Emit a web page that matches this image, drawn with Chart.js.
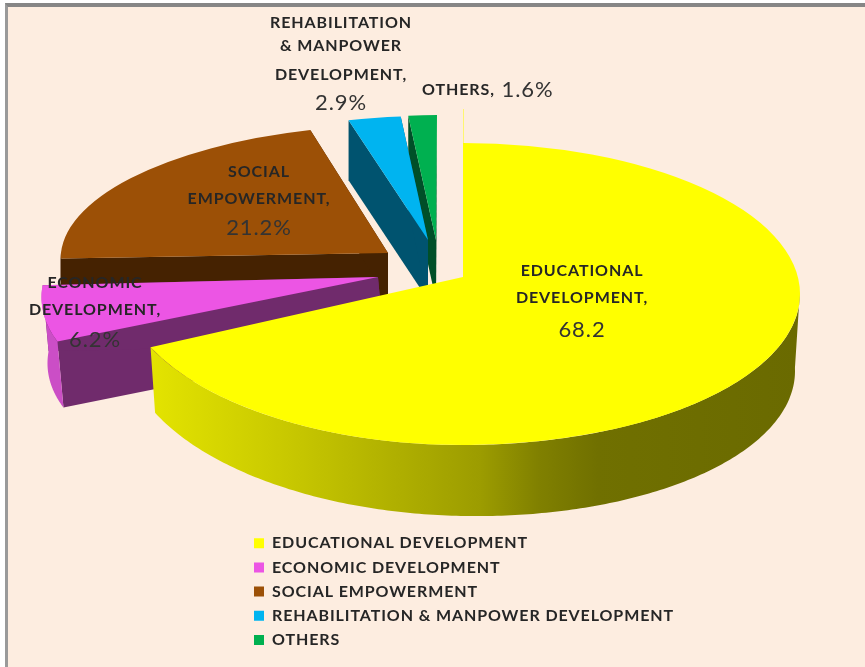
<!DOCTYPE html>
<html>
<head>
<meta charset="utf-8">
<script src="https://cdn.jsdelivr.net/npm/chart.js@4"></script>
<style>
html,body{margin:0;padding:0;background:#fff;width:865px;height:667px;overflow:hidden}
#panel{position:absolute;left:5px;top:3px;right:0;bottom:0;background:#FDEDE0;border-left:3px solid #9a9a9a;border-top:4px solid #868686}
#c{position:absolute;left:0;top:0;filter:blur(0.6px)}
</style>
</head>
<body>
<div id="panel"></div>
<canvas id="c" width="865" height="667"></canvas>
<script>
// ---- data ----
const categories = ['EDUCATIONAL DEVELOPMENT','ECONOMIC DEVELOPMENT','SOCIAL EMPOWERMENT','REHABILITATION & MANPOWER DEVELOPMENT','OTHERS'];
const shares = [68.2, 6.2, 21.2, 2.9, 1.6];
const shareText = ['68.2','6.2%','21.2%','2.9%','1.6%'];
// ---- colours ----
const topColors = ['#FFFF00','#EC55E4','#9C5006','#00B4F0','#00B050'];
const cutColors = ['#8a8a00','#702B6C','#452201','#00536F','#004F28'];
const rimColors = [null,'#CB4EC6','#452201','#00536F','#004F28'];
// ---- exploded 3D layout: per-slice projection (centre, radii, shear, extrusion) ----
// The large slice uses two projections (right half / left half) to imitate perspective.
const frames = [
  {right:{cx:463,cy:294,rx:337,ry:151,k:0,b:0},left:{cx:463,cy:277,rx:344,ry:168,k:0,b:0},splitX:463,depthBase:71,depthTilt:6,dxTilt:-5},
  {cx:378,cy:277,rx:334,ry:150,k:-41,b:-2,depth:66,dx:6},
  {cx:388,cy:253,rx:327,ry:128,k:-14,b:0, depth:46,dx:0},
  {cx:428,cy:240,rx:292,ry:124,k:-2, b:2, depth:60,dx:0},
  {cx:436,cy:240,rx:287,ry:125,k:-1, b:0, depth:60,dx:0}
];
const drawOrder = [2,4,3,1,0];
const rimStops = [[0,'#E4E400'],[0.23,'#C6C600'],[0.51,'#9C9C00'],[0.6,'#808000'],[0.69,'#707000'],[1,'#6A6A00']];
// ---- data labels ----
const labelLines = [
  {x:582,ys:[271,298],v:330,lines:['EDUCATIONAL','DEVELOPMENT,']},
  {x:95, ys:[283,310],v:340,lines:['ECONOMIC','DEVELOPMENT,']},
  {x:259,ys:[172,199],v:228,lines:['SOCIAL','EMPOWERMENT,']},
  {x:341,ys:[23,46,75],v:103,lines:['REHABILITATION','& MANPOWER','DEVELOPMENT,']},
  {x:422,ys:[90],v:90,lines:['OTHERS,'],inline:true}
];
const labelFont = '700 16px Lato';
const valueFont = '400 22px Lato';
const labelColor = '#262626';
const valueColor = '#333333';
const labelTracking = '0.9px';

function drawTop(ctx,el,p,f,clip){
  const R = p.outerRadius;
  ctx.save();
  if(clip){ctx.beginPath();ctx.rect(clip[0],0,clip[1],667);ctx.clip();}
  ctx.translate(f.cx,f.cy);
  ctx.transform(f.rx/R,f.b/R,f.k/R,f.ry/R,0,0);
  ctx.translate(-p.x,-p.y);
  el.draw(ctx);
  ctx.restore();
}

const pseudo3d = {
  id:'pseudo3d',
  afterLayout(chart){
    const l = chart.legend;
    l.left = 245.8; l.top = 527; l.right = 860; l.bottom = 667;
  },
  beforeDraw(chart){ chart.ctx.letterSpacing = labelTracking; },
  beforeDatasetDraw(chart){
    const ctx = chart.ctx;
    const arcs = chart.getDatasetMeta(0).data;
    drawOrder.forEach(i=>{
      const el = arcs[i], f = frames[i];
      const p = el.getProps(['x','y','startAngle','endAngle','outerRadius'],true);
      const frameAt = a => f.right ? (Math.cos(a)>=0 ? f.right : f.left) : f;
      const at = a=>{
        const s = Math.sin(a), c = Math.cos(a), g = frameAt(a);
        return [g.cx+g.rx*c+g.k*s, g.cy+g.ry*s+g.b*c];
      };
      const depthAt = a => f.right ? f.depthBase+f.depthTilt*Math.cos(a) : f.depth;
      const dxAt = a => f.right ? f.dxTilt*Math.cos(a) : f.dx;
      if(i!==0){
        ctx.fillStyle = cutColors[i];
        [p.startAngle,p.endAngle].forEach(a=>{
          const e = at(a);
          ctx.beginPath();
          ctx.moveTo(f.cx,f.cy);ctx.lineTo(e[0],e[1]);
          ctx.lineTo(e[0]+f.dx,e[1]+f.depth);ctx.lineTo(f.cx+f.dx,f.cy+f.depth);
          ctx.closePath();ctx.fill();
        });
      }
      // outer rim, only where it faces the viewer
      const from = Math.max(p.startAngle,-0.02);
      const to = Math.min(p.endAngle, Math.PI+0.02);
      if(to>from){
        const n = 200, angs=[];
        for(let j=0;j<=n;j++) angs.push(from+(to-from)*j/n);
        ctx.beginPath();
        angs.forEach((a,j)=>{const q=at(a); j?ctx.lineTo(q[0],q[1]):ctx.moveTo(q[0],q[1]);});
        for(let j=n;j>=0;j--){const a=angs[j],q=at(a);ctx.lineTo(q[0]+dxAt(a),q[1]+depthAt(a));}
        ctx.closePath();
        if(i===0){
          const g = ctx.createLinearGradient(148,0,800,0);
          rimStops.forEach(s=>g.addColorStop(s[0],s[1]));
          ctx.fillStyle=g;
        } else ctx.fillStyle = rimColors[i];
        ctx.fill();
      }
      // top face: the library's own arc element, projected
      if(f.right){
        drawTop(ctx,el,p,f.right,[f.splitX,865-f.splitX]);
        drawTop(ctx,el,p,f.left,[0,f.splitX+0.5]);
      } else drawTop(ctx,el,p,f);
    });
    return false;
  },
  afterDraw(chart){
    const ctx = chart.ctx;
    ctx.save();
    ctx.textBaseline='middle';
    ctx.letterSpacing = labelTracking;
    labelLines.forEach((l,i)=>{
      ctx.font = labelFont; ctx.fillStyle = labelColor;
      if(l.inline){
        ctx.textAlign='left';
        ctx.fillText(l.lines[0],l.x,l.ys[0]);
        const w = ctx.measureText(l.lines[0]+' ').width;
        ctx.font = valueFont; ctx.fillStyle = valueColor;
        ctx.fillText(shareText[i],l.x+w+2,l.v);
      } else {
        ctx.textAlign='center';
        l.lines.forEach((t,j)=>ctx.fillText(t,l.x,l.ys[j]));
        ctx.font = valueFont; ctx.fillStyle = valueColor;
        ctx.fillText(shareText[i],l.x,l.v);
      }
    });
    ctx.restore();
  }
};

new Chart(document.getElementById('c'),{
  type:'pie',
  data:{labels:categories,datasets:[{data:shares,backgroundColor:topColors,borderWidth:0}]},
  options:{
    responsive:false,animation:false,events:[],
    layout:{padding:0},
    plugins:{
      tooltip:{enabled:false},title:{display:false},
      legend:{display:true,position:'chartArea',align:'start',
        labels:{boxWidth:10,boxHeight:10,padding:8.2,color:'#262626',font:{family:'Lato',size:16,weight:'700'}}}
    }
  },
  plugins:[pseudo3d]
});
</script>
</body>
</html>
